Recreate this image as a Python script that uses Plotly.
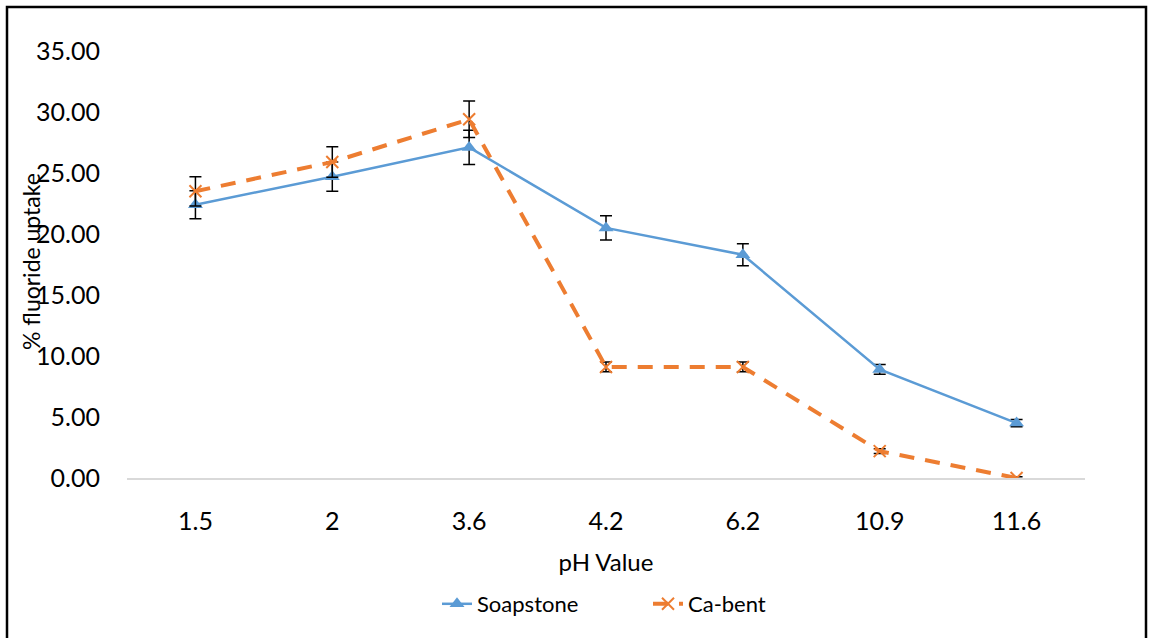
import plotly.graph_objects as go

categories = ["1.5", "2", "3.6", "4.2", "6.2", "10.9", "11.6"]
soapstone = [22.4, 24.7, 27.1, 20.5, 18.3, 8.9, 4.5]
soapstone_err = [1.15, 1.2, 1.4, 1.0, 0.9, 0.4, 0.3]
cabent = [23.5, 25.9, 29.4, 9.1, 9.1, 2.2, 0.0]
cabent_err = [1.2, 1.25, 1.5, 0.4, 0.4, 0.2, 0.1]
yticks = [0, 5, 10, 15, 20, 25, 30, 35]

W, H = 1149, 638
L, R, T, B = 127, 64, 51, 160
FONT = "Lato"

fig = go.Figure()
fig.add_trace(go.Scatter(
    x=categories, y=soapstone, name="Soapstone", mode="lines+markers",
    line=dict(color="#5B9BD5", width=2.5),
    marker=dict(symbol="triangle-up", size=13, color="#5B9BD5"),
    error_y=dict(type="data", array=soapstone_err, visible=True,
                 color="black", thickness=1.5, width=6),
))
fig.add_trace(go.Scatter(
    x=categories, y=cabent, name="Ca-bent", mode="lines+markers",
    line=dict(color="#ED7D31", width=4, dash="15px,11px"),
    marker=dict(symbol="x-thin", size=12, color="#ED7D31",
                line=dict(color="#ED7D31", width=2)),
    error_y=dict(type="data", array=cabent_err, visible=True,
                 color="black", thickness=1.5, width=6),
))

pw = W - L - R
ph = H - T - B
def px(x):
    return (x - L) / pw
def py(y):
    return (H - B - y) / ph

fig.add_shape(type="path",
              path=f"M {px(7)} {py(660)} L {px(7)} {py(7)} L {px(1146)} {py(7)} L {px(1146)} {py(660)}",
              xref="paper", yref="paper", line=dict(color="black", width=2.5))

fig.add_annotation(text="% fluoride uptake", textangle=-90, xref="paper", yref="paper",
                   x=px(31), y=py(262), xanchor="center", yanchor="middle", showarrow=False,
                   font=dict(family=FONT, size=23, color="black"))

fig.update_layout(
    width=W, height=H,
    margin=dict(l=L, r=R, t=T, b=B, autoexpand=False),
    paper_bgcolor="white", plot_bgcolor="white",
    font=dict(family=FONT, color="black"),
    showlegend=True,
    legend=dict(orientation="h", x=px(437), xanchor="left", y=py(604), yanchor="middle",
                font=dict(family=FONT, size=22, color="black"),
                entrywidth=166, entrywidthmode="pixels",
                bgcolor="rgba(0,0,0,0)"),
    xaxis=dict(type="category", categoryorder="array", categoryarray=categories,
               range=[-0.5, 6.5],
               showgrid=False, showline=True, linecolor="#D9D9D9", linewidth=1.5,
               ticks="", ticklabelstandoff=20, tickfont=dict(family=FONT, size=25),
               title=dict(text="pH Value", font=dict(family=FONT, size=24), standoff=20),
               zeroline=False),
    yaxis=dict(range=[0, 35], tickvals=yticks, ticktext=[f"{v:.2f}" for v in yticks],
               showgrid=False, showline=False, zeroline=False, ticks="",
               ticklabelstandoff=26, tickfont=dict(family=FONT, size=25)),
)

fig.write_html("out.html")
